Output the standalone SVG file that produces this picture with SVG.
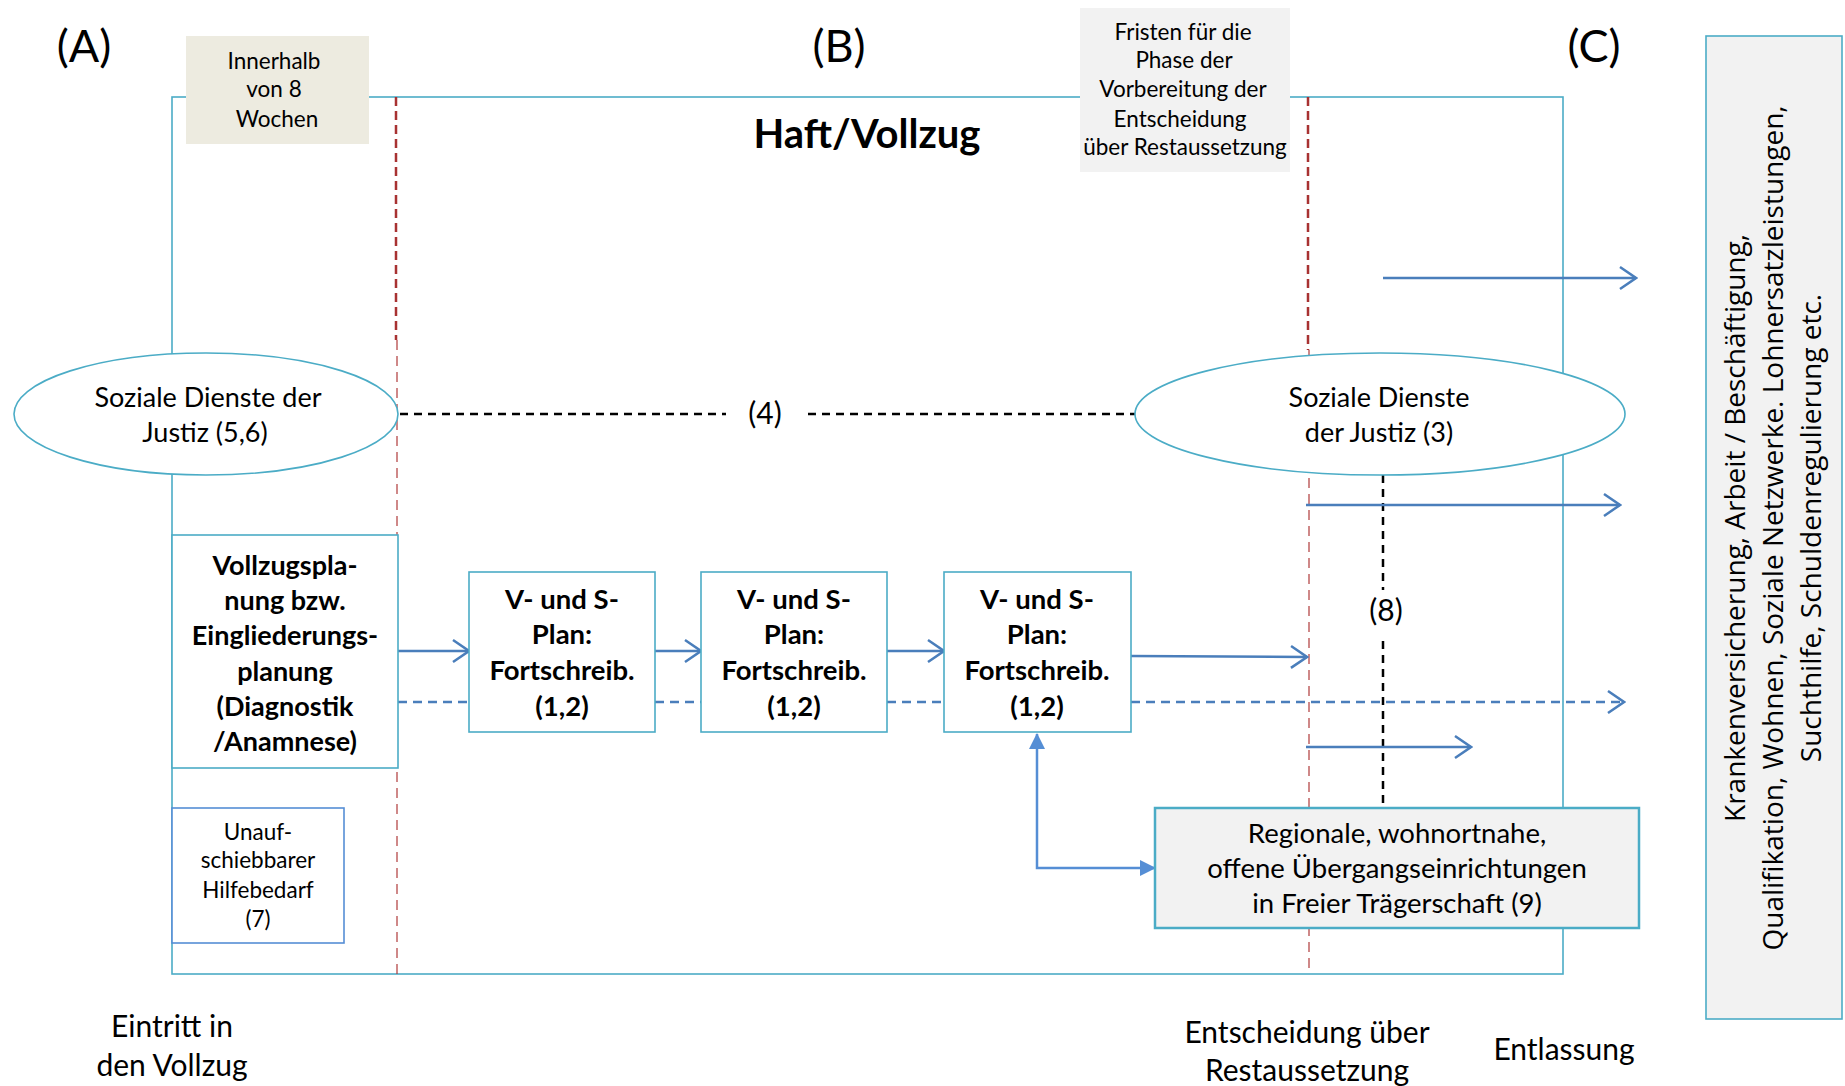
<svg xmlns="http://www.w3.org/2000/svg" width="1845" height="1086" viewBox="0 0 1845 1086">
<style>
text { font-family: Lato, "Liberation Sans", sans-serif; fill: #000; text-anchor: middle; }
.big { font-size: 45px; }
.small { font-size: 22.5px; }
.mid { font-size: 27px; }
.lab { font-size: 30px; }
.reg { font-size: 27.5px; }
.bold { font-weight: bold; font-size: 27.5px; }
.vb { font-weight: bold; font-size: 27px; }
.frame { fill: none; stroke: #4BACC6; stroke-width: 1.6; }
.box { fill: #fff; stroke: #4BACC6; stroke-width: 1.6; }
.grey { fill: #F2F2F2; stroke: #4BACC6; stroke-width: 2.5; }
.arrow { fill: none; stroke: #4A7EBB; stroke-width: 2.5; }
.darrow { fill: none; stroke: #4A7EBB; stroke-width: 2.5; stroke-dasharray: 9 6; }
.bdash { fill: none; stroke: #000; stroke-width: 2.5; stroke-dasharray: 8 6; }
.red1 { fill: none; stroke: #A83232; stroke-width: 2.5; stroke-dasharray: 9 5; }
.red2 { fill: none; stroke: #B03A3A; stroke-width: 1.2; stroke-dasharray: 10 6; }
.rot { font-family: "Open Sans", "Noto Sans", sans-serif; font-size: 28px; }
</style>
<defs>
<marker id="open" markerUnits="userSpaceOnUse" markerWidth="20" markerHeight="26" viewBox="0 0 20 26" refX="18" refY="13" orient="auto">
<path d="M2,2 L18,13 L2,24" fill="none" stroke="#4A7EBB" stroke-width="2.5"/>
</marker>
<marker id="tri" markerUnits="userSpaceOnUse" markerWidth="16" markerHeight="16" viewBox="0 0 16 16" refX="15" refY="8" orient="auto-start-reverse">
<path d="M0,0 L16,8 L0,16 Z" fill="#558ED5"/>
</marker>
</defs>
<rect width="1845" height="1086" fill="#fff"/>

<g id="frame">
<rect class="frame" x="172" y="97" width="1391" height="877"/>
</g>

<g id="phase-lines">
<line class="red1" x1="396" y1="97" x2="396" y2="340"/>
<line class="red2" x1="397" y1="340" x2="397" y2="974"/>
<line class="red1" x1="1308" y1="97" x2="1308" y2="350"/>
<line class="red2" x1="1309" y1="350" x2="1309" y2="974"/>
</g>

<g id="section-labels">
<text class="big" x="84" y="62">(A)</text>
<text class="big" x="839" y="62">(B)</text>
<text class="big" x="1594" y="62">(C)</text>
<text x="867" y="148" style="font-size:40px;font-weight:bold">Haft/Vollzug</text>
</g>

<g id="innerhalb">
<rect x="186" y="36" width="183" height="108" fill="#EDEBE0"/>
<text class="small" x="274" y="69">Innerhalb</text>
<text class="small" x="274" y="97">von 8</text>
<text class="small" x="277" y="127">Wochen</text>
</g>

<g id="fristen">
<rect x="1080" y="8" width="210" height="164" fill="#F2F2F2"/>
<text class="small" x="1183" y="40">Fristen für die</text>
<text class="small" x="1184" y="68">Phase der</text>
<text class="small" x="1183" y="97">Vorbereitung  der</text>
<text class="small" x="1180" y="127">Entscheidung</text>
<text class="small" x="1185" y="155">über Restaussetzung</text>
</g>

<g id="connectors">
<line class="bdash" x1="400" y1="414" x2="726" y2="414"/>
<line class="bdash" x1="808" y1="414" x2="1136" y2="414"/>
<line class="bdash" x1="1383" y1="475" x2="1383" y2="590"/>
<line class="bdash" x1="1383" y1="641" x2="1383" y2="808"/>
<line class="arrow" x1="398" y1="651" x2="469" y2="651" marker-end="url(#open)"/>
<line class="arrow" x1="655" y1="651" x2="701" y2="651" marker-end="url(#open)"/>
<line class="arrow" x1="887" y1="651" x2="944" y2="651" marker-end="url(#open)"/>
<line class="arrow" x1="1131" y1="656" x2="1307" y2="657" marker-end="url(#open)"/>
<line class="darrow" x1="398" y1="702" x2="469" y2="702"/>
<line class="darrow" x1="655" y1="702" x2="701" y2="702"/>
<line class="darrow" x1="887" y1="702" x2="944" y2="702"/>
<line class="darrow" x1="1131" y1="702" x2="1624" y2="702" marker-end="url(#open)"/>
<line class="arrow" x1="1383" y1="278" x2="1636" y2="278" marker-end="url(#open)"/>
<line class="arrow" x1="1306" y1="505" x2="1620" y2="505" marker-end="url(#open)"/>
<line class="arrow" x1="1306" y1="747" x2="1471" y2="747" marker-end="url(#open)"/>
<path d="M1037,734 L1037,868 L1155,868" fill="none" stroke="#558ED5" stroke-width="2.5" marker-start="url(#tri)" marker-end="url(#tri)"/>
<text class="lab" x="765" y="424">(4)</text>
<text class="lab" x="1386" y="621">(8)</text>
</g>

<g id="sdj-left">
<ellipse cx="206" cy="414" rx="192" ry="61" fill="#fff" stroke="#4BACC6" stroke-width="1.6"/>
<text class="mid" x="208" y="407">Soziale Dienste der</text>
<text class="mid" x="205" y="442">Justiz (5,6)</text>
</g>

<g id="sdj-right">
<ellipse cx="1380" cy="414" rx="245" ry="61" fill="#fff" stroke="#4BACC6" stroke-width="1.6"/>
<text class="mid" x="1379" y="407">Soziale Dienste</text>
<text class="mid" x="1379" y="442">der Justiz (3)</text>
</g>

<g id="vollzugsplanung">
<rect class="box" x="172" y="535" width="226" height="233"/>
<text class="vb" x="285" y="575">Vollzugspla-</text>
<text class="vb" x="285" y="610">nung bzw.</text>
<text class="vb" x="285" y="645">Eingliederungs-</text>
<text class="vb" x="285" y="681">planung</text>
<text class="vb" x="285" y="716">(Diagnostik</text>
<text class="vb" x="285" y="751">/Anamnese)</text>
</g>

<g id="plan1">
<rect class="box" x="469" y="572" width="186" height="160"/>
<text class="bold" x="562" y="609">V- und S-</text>
<text class="bold" x="562" y="644">Plan:</text>
<text class="bold" x="562" y="680">Fortschreib.</text>
<text class="bold" x="562" y="716">(1,2)</text>
</g>

<g id="plan2">
<rect class="box" x="701" y="572" width="186" height="160"/>
<text class="bold" x="794" y="609">V- und S-</text>
<text class="bold" x="794" y="644">Plan:</text>
<text class="bold" x="794" y="680">Fortschreib.</text>
<text class="bold" x="794" y="716">(1,2)</text>
</g>

<g id="plan3">
<rect class="box" x="944" y="572" width="187" height="160"/>
<text class="bold" x="1037" y="609">V- und S-</text>
<text class="bold" x="1037" y="644">Plan:</text>
<text class="bold" x="1037" y="680">Fortschreib.</text>
<text class="bold" x="1037" y="716">(1,2)</text>
</g>

<g id="unaufschiebbar">
<rect x="172" y="808" width="172" height="135" fill="#fff" stroke="#558ED5" stroke-width="1.6"/>
<text class="small" x="258" y="840">Unauf-</text>
<text class="small" x="258" y="868">schiebbarer</text>
<text class="small" x="258" y="898">Hilfebedarf</text>
<text class="small" x="258" y="927">(7)</text>
</g>

<g id="regional">
<rect class="grey" x="1155" y="808" width="484" height="120"/>
<text class="reg" x="1397" y="843">Regionale, wohnortnahe,</text>
<text class="reg" x="1397" y="878">offene Übergangseinrichtungen</text>
<text class="reg" x="1397" y="913">in Freier Trägerschaft (9)</text>
</g>

<g id="resources">
<rect x="1706" y="36" width="136" height="983" fill="#F2F2F2" stroke="#4BACC6" stroke-width="1.6"/>
<g transform="translate(1774,528) rotate(-90)">
<text class="rot" x="0" y="-29">Krankenversicherung, Arbeit / Beschäftigung,</text>
<text class="rot" x="0" y="9">Qualifikation, Wohnen, Soziale Netzwerke. Lohnersatzleistungen,</text>
<text class="rot" x="0" y="47">Suchthilfe, Schuldenregulierung etc.</text>
</g>
</g>

<g id="timeline-labels">
<text class="lab" x="172" y="1037">Eintritt in</text>
<text class="lab" x="172" y="1076">den Vollzug</text>
<text class="lab" x="1307" y="1043">Entscheidung über</text>
<text class="lab" x="1307" y="1081">Restaussetzung</text>
<text class="lab" x="1564" y="1060">Entlassung</text>
</g>
</svg>
